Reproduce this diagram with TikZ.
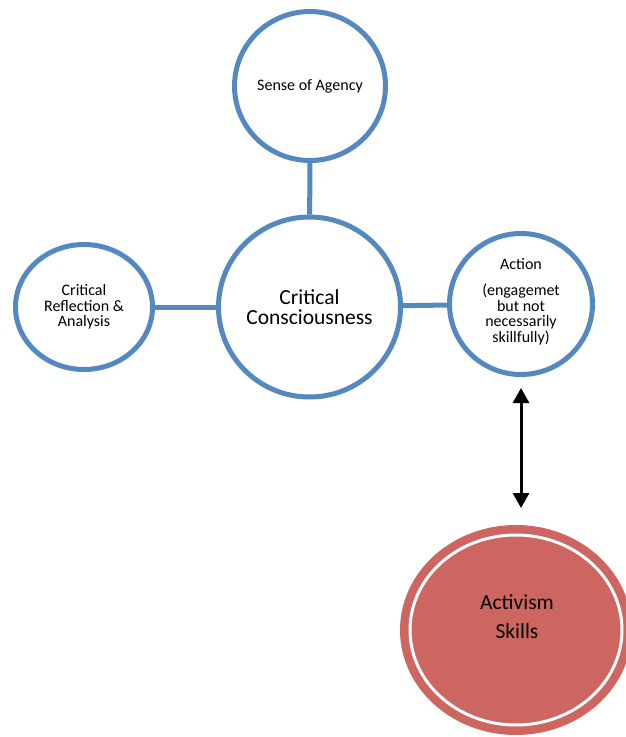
\documentclass[tikz,border=0pt]{standalone}
\usepackage{fontspec}
\setmainfont{Carlito}
\usetikzlibrary{shapes.geometric,arrows.meta}
\definecolor{ringblue}{RGB}{86,136,192}
\definecolor{skillred}{RGB}{205,102,96}
\tikzset{bigtip/.tip={Triangle[width=16pt,length=15pt]}}
\begin{document}
\begin{tikzpicture}[x=1pt,y=-1pt,
  ring/.style={ellipse, draw=ringblue, line width=5pt, fill=white,
    inner sep=0pt, align=center},
  link/.style={draw=ringblue, line width=5pt},
  small/.style={font=\fontsize{16}{15.7}\selectfont},
  big/.style={font=\fontsize{21.5}{20}\selectfont},
  twoway/.style={line width=3pt, bigtip-bigtip}]
\useasboundingbox (0,0) rectangle (626,737);
\clip (0,0) rectangle (626,737);

% blue concept circles
\node[ring, small, minimum width=151pt, minimum height=149pt] (agency) at (310,86) {Sense of Agency};
\node[ring, big, minimum width=182pt, minimum height=180pt] (cc) at (309.5,307) {Critical\\Consciousness};
\node[ring, small, minimum width=137pt, minimum height=125pt] (reflect) at (84,307) {Critical\\Reflection \&\\Analysis};
\node[ring, minimum width=143pt, minimum height=141pt] (action) at (521,304) {};
\node[small, align=center] (actiontext) at (521,302) {Action\\[10pt](engagemet\\but not\\necessarily\\skillfully)};

% links to the centre
\draw[link] (agency) -- (cc);
\draw[link] (reflect) -- (cc);
\draw[link] (cc) -- (action);

% activism skills disc with inner white ring
\node[ellipse, fill=skillred, inner sep=0pt, minimum width=232pt, minimum height=210pt] (skills) at (516,630) {};
\draw[white, line width=3pt] (skills.center) ellipse [x radius=106, y radius=95];
\node[big, align=center] (skillstext) at (517,617) {Activism\\[9pt]Skills};

% two-way arrow between action and skills
\coordinate (arrTop) at (521,388);
\coordinate (arrBot) at (521,508);
\draw[twoway] (arrTop) -- (arrBot);
\end{tikzpicture}
\end{document}
